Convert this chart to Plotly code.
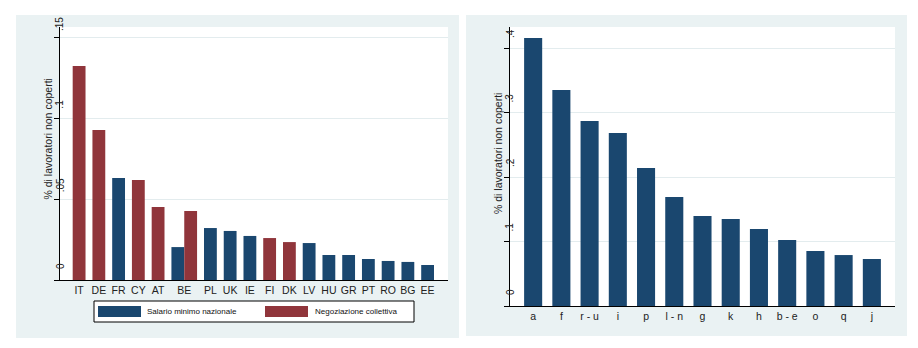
import plotly.graph_objects as go

W, H = 918, 348
BLUE = "#1A476F"
RED = "#90353B"
BG = "#EAF2F3"
GRID = "#E3ECEE"
FONT = "Liberation Sans, Arial, sans-serif"
TXT = "#222222"

# Left panel: share of uncovered workers by country and wage-setting regime
countries = ["IT", "DE", "FR", "CY", "AT", "BE", "PL", "UK", "IE",
             "FI", "DK", "LV", "HU", "GR", "PT", "RO", "BG", "EE"]
salario_minimo = [None, None, 0.0632, None, None, 0.0204, 0.0322, 0.0304, 0.0273,
                  None, None, 0.0229, 0.0155, 0.0155, 0.0130, 0.0118, 0.0112, 0.0093]
negoziazione = [0.1326, 0.0929, None, 0.0620, 0.0452, 0.0428, None, None, None,
                0.0260, 0.0235, None, None, None, None, None, None, None]
left_ticks = [0, 0.05, 0.10, 0.15]
left_ticktext = ["0", ".05", ".1", ".15"]

# Right panel: share of uncovered workers by sector
sectors = ["a", "f", "r - u", "i", "p", "l - n", "g", "k", "h", "b - e", "o", "q", "j"]
sector_values = [0.4155, 0.3349, 0.2868, 0.2682, 0.2140, 0.1690, 0.1395,
                 0.1349, 0.1194, 0.1023, 0.0853, 0.0790, 0.0729]
right_ticks = [0, 0.1, 0.2, 0.3, 0.4]
right_ticktext = ["0", ".1", ".2", ".3", ".4"]

series_names = ["Salario minimo nazionale", "Negoziazione collettiva"]
y_title = "% di lavoratori non coperti"


def px(x):
    return x / W


def py(y):
    return 1 - y / H


# Country slots: each bar is one unit wide, groups separated by GAP;
# a country with both regimes gets two adjacent bars.
GAP = 0.54
sal_x, sal_y, neg_x, neg_y, centers = [], [], [], [], []
pos = 0.0
for s, n in zip(salario_minimo, negoziazione):
    k = 0
    if s is not None:
        sal_x.append(pos + k + 0.5)
        sal_y.append(s)
        k += 1
    if n is not None:
        neg_x.append(pos + k + 0.5)
        neg_y.append(n)
        k += 1
    centers.append(pos + k / 2)
    pos += k + GAP
bars_end = pos - GAP

fig = go.Figure()
fig.add_trace(go.Bar(x=sal_x, y=sal_y, width=1, name=series_names[0],
                     marker=dict(color=BLUE, line=dict(width=0)),
                     xaxis="x", yaxis="y", showlegend=False))
fig.add_trace(go.Bar(x=neg_x, y=neg_y, width=1, name=series_names[1],
                     marker=dict(color=RED, line=dict(width=0)),
                     xaxis="x", yaxis="y", showlegend=False))
fig.add_trace(go.Bar(x=sectors, y=sector_values, width=0.64,
                     marker=dict(color=BLUE, line=dict(width=0)),
                     xaxis="x2", yaxis="y2", showlegend=False))

# panel geometry in pixels
L = dict(x0=60, x1=448, y0=27, y1=280)
R = dict(x0=510, x1=895, y0=27, y1=306)

axis_common = dict(showline=True, linecolor="black", linewidth=1, zeroline=False)
fig.update_layout(
    width=W, height=H,
    margin=dict(l=0, r=0, t=0, b=0),
    paper_bgcolor="white", plot_bgcolor="white",
    barmode="overlay",
    font=dict(family=FONT, color=TXT),
    xaxis=dict(domain=[px(L["x0"]), px(L["x1"])], anchor="y",
               range=[-0.99, bars_end + 1.09],
               tickmode="array", tickvals=centers, ticktext=countries,
               ticks="", showgrid=False,
               tickfont=dict(size=10.5, family=FONT, color=TXT), **axis_common),
    yaxis=dict(domain=[py(L["y1"]), py(L["y0"])], anchor="x",
               range=[0, 0.1568], tickmode="array", tickvals=left_ticks,
               showticklabels=False, ticks="outside", ticklen=5,
               tickcolor="black", tickwidth=1,
               showgrid=True, gridcolor=GRID, gridwidth=1, **axis_common),
    xaxis2=dict(domain=[px(R["x0"]), px(R["x1"])], anchor="y2",
                type="category", range=[-0.82, len(sectors) - 1 + 0.82],
                ticks="", showgrid=False,
                tickfont=dict(size=10.5, family=FONT, color=TXT), **axis_common),
    yaxis2=dict(domain=[py(R["y1"]), py(R["y0"])], anchor="x2",
                range=[0, 0.4326], tickmode="array", tickvals=right_ticks,
                showticklabels=False, ticks="outside", ticklen=5,
                tickcolor="black", tickwidth=1,
                showgrid=True, gridcolor=GRID, gridwidth=1, **axis_common),
)

shapes = []
# graph regions (light bluish gray) and white plot regions
for x0, y0, x1, y1 in [(16, 15, 459, 338), (466, 15, 907, 336)]:
    shapes.append(dict(type="rect", xref="paper", yref="paper", layer="below",
                       x0=px(x0), x1=px(x1), y0=py(y1), y1=py(y0),
                       fillcolor=BG, line=dict(width=0)))
for p in (L, R):
    shapes.append(dict(type="rect", xref="paper", yref="paper", layer="below",
                       x0=px(p["x0"]), x1=px(p["x1"]), y0=py(p["y1"]), y1=py(p["y0"]),
                       fillcolor="white", line=dict(width=0)))

# legend box with wide swatches
shapes.append(dict(type="rect", xref="paper", yref="paper", layer="above",
                   x0=px(94), x1=px(414), y0=py(322), y1=py(301),
                   fillcolor="white", line=dict(color="black", width=1)))
annotations = []
for (sx0, sx1, tx), color, name in zip([(98, 141, 145), (265, 308, 313)],
                                       [BLUE, RED], series_names):
    shapes.append(dict(type="rect", xref="paper", yref="paper", layer="above",
                       x0=px(sx0), x1=px(sx1), y0=py(317), y1=py(306),
                       fillcolor=color, line=dict(width=0)))
    annotations.append(dict(text=name, xref="paper", yref="paper",
                            x=px(tx), y=py(311.5), xanchor="left", yanchor="middle",
                            showarrow=False, font=dict(size=8, family=FONT, color="#111111")))

# vertical y tick labels
for yref, ax_x, vals, labels in [("y", 60, left_ticks, left_ticktext),
                                 ("y2", 510, right_ticks, right_ticktext)]:
    for v, lab in zip(vals, labels):
        annotations.append(dict(text=lab, xref="paper", yref=yref,
                                x=px(ax_x), y=v, yshift=14, textangle=-90,
                                xanchor="center", yanchor="middle", showarrow=False,
                                font=dict(size=10, family=FONT, color=TXT)))

# y axis titles
for tx, ty in [(47, 139.5), (498, 153)]:
    annotations.append(dict(text=y_title, xref="paper", yref="paper",
                            x=px(tx), y=py(ty), textangle=-90,
                            xanchor="center", yanchor="middle", showarrow=False,
                            font=dict(size=10.5, family=FONT, color=TXT)))

fig.update_layout(shapes=shapes, annotations=annotations)
fig.write_html("out.html")
